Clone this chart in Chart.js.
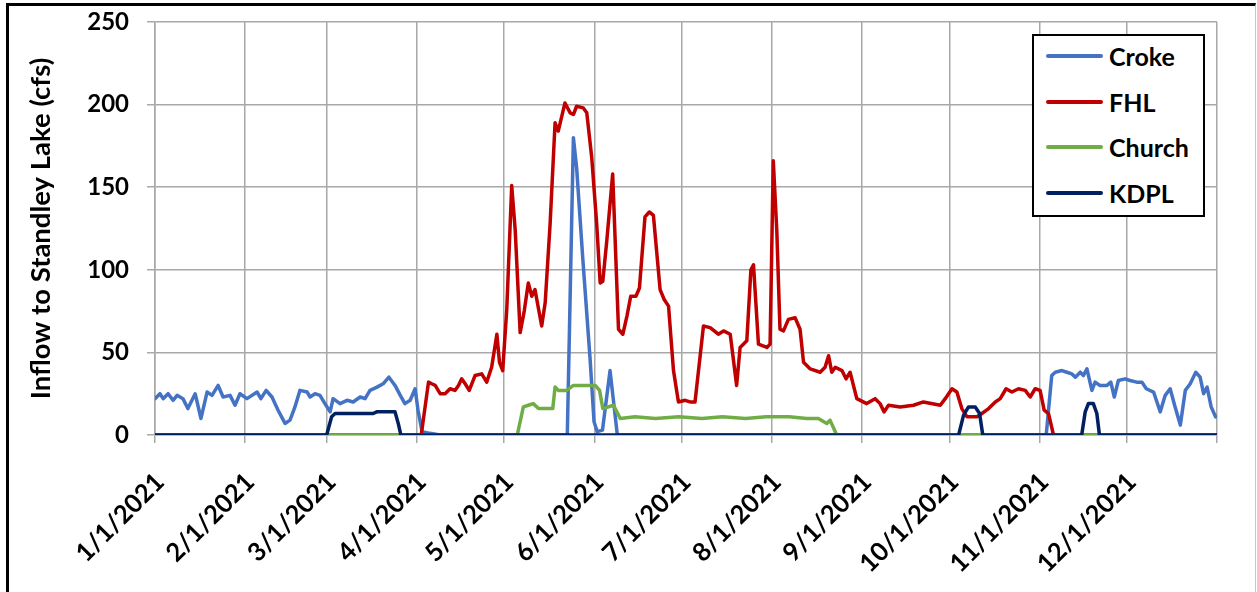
<!DOCTYPE html>
<html>
<head>
<meta charset="utf-8">
<script src="https://cdn.jsdelivr.net/npm/chart.js@4"></script>
<style>
  body { margin: 0; background: #fff; font-family: Lato, "Open Sans", sans-serif; }
  #wrap { position: relative; width: 1257px; height: 592px; }
  #frame { position: absolute; left: 6px; top: 3px; width: 1246px; height: 586px;
           border-top: 3px solid #000; border-left: 3px solid #000;
           border-right: 1px solid #c8c8c8; border-bottom: 1px solid #c8c8c8; }
  canvas { position: absolute; left: 0; top: 0; }
  #legend { position: absolute; left: 1032px; top: 34px; width: 169px; height: 179px;
            border: 2px solid #000; background: #fff; }
  .item { position: absolute; left: 12px; height: 30px; display: flex; align-items: center;
          font-weight: bold; font-size: 25px; color: #000; }
  .item span.swatch { display: inline-block; width: 57px; height: 4px; border-radius: 2px; margin-right: 6px; }
</style>
</head>
<body>
<div id="wrap">
  <div id="frame"></div>
  <canvas id="chart" width="1257" height="592"></canvas>
  <div id="legend"></div>
</div>
<script>
// x positions are days since 1/1/2021
const monthTicks = [0, 31, 59, 90, 120, 151, 181, 212, 243, 273, 304, 334, 365];
const monthLabels = ['1/1/2021', '2/1/2021', '3/1/2021', '4/1/2021', '5/1/2021', '6/1/2021',
  '7/1/2021', '8/1/2021', '9/1/2021', '10/1/2021', '11/1/2021', '12/1/2021', ''];

const crokeDays = [0, 1.7, 2.8, 4.5, 6.2, 7.6, 9.6, 11.3, 13.8, 15.8, 17.9, 19.6, 21.7, 23.4, 25.8, 27.5,
  29.2, 31.6, 35.1, 36.4, 38.2, 40.2, 42.3, 44.7, 46.4, 48.1, 49.8, 52.3, 53.3, 55, 56.7, 58.4, 60.2,
  61.2, 63.6, 66, 68.1, 70.5, 72.2, 73.9, 76.3, 78.4, 80.4, 82.5, 84.3, 85.9, 87.7, 89.4, 90.4, 91.8,
  94.5, 98, 141.7, 143.8, 144.9, 147.1, 149.5, 150.9, 152, 153.8, 156.4, 158.9, 306.3, 308.2, 309.4,
  311.7, 313.4, 315.1, 316.3, 318, 319.1, 320.3, 322, 323.1, 324.8, 327.2, 328.5, 329.7, 331.1, 333.4,
  335.1, 337.4, 339.2, 340.7, 343.2, 345.5, 347.2, 348.9, 350.6, 352.4, 354.1, 355.8, 357.7, 359.2,
  360.4, 361.6, 363, 364.5];
const crokeVals = [22, 25, 22, 25, 21, 24, 22, 16, 25, 10, 26, 24, 30, 23, 24, 18,
  25, 22, 26, 22, 27, 23, 15, 7, 9, 17, 27, 26, 23, 25, 24, 19, 14,
  22, 19, 21, 20, 23, 22, 27, 29, 31, 35, 30, 24, 19, 21, 28, 15, 2,
  1, 0, 0, 180, 162, 105, 47, 8, 2, 3, 39, 0, 0, 36, 38,
  39, 38, 37, 35, 38, 36, 40, 27, 32, 30, 30, 32, 23, 33, 34,
  33, 32, 32, 28, 26, 14, 24, 28, 17, 6, 27, 31, 38, 35,
  25, 29, 17, 11];

const fhlDays = [0, 91.5, 94, 95.1, 96.3, 98, 99.7, 101.4, 103.1, 104.3, 105.4, 106.6, 108, 110, 112.3,
  114, 115.7, 117.5, 118.4, 119.5, 120.9, 122.6, 123.8, 125.5, 126.9, 128.3, 129.5, 130.6, 132.9, 134.1,
  135.8, 137.5, 138.6, 140.9, 142.7, 143.8, 144.9, 147.2, 148.4, 150.1, 151.8, 153, 153.9, 155.3, 157.3,
  159.3, 160.8, 162.2, 163.5, 165.3, 166.5, 168.4, 169.9, 171.3, 173.6, 175, 176.5, 178.2, 179.9, 182.2,
  183.9, 185.6, 188.5, 190.8, 193.6, 195.4, 197.7, 199.9, 201.1, 203.4, 204.8, 205.7, 207.4, 210.3, 211.4,
  212.5, 213.7, 214.8, 216, 217.7, 220, 221.7, 222.9, 225.2, 228.6, 230.3, 231.5, 232.6, 233.8, 236.1,
  237.5, 238.9, 241.2, 244.6, 247.5, 249.2, 250.6, 252.1, 256.1, 260.7, 264.1, 269.9, 271.6, 273.9, 275.6,
  277.3, 279.1, 280.8, 282.5, 284.2, 286.5, 288.8, 290.5, 292.5, 294.5, 296.8, 299.1, 300.8, 302.5, 304.2,
  305.6, 307.1, 308.8, 365];
const fhlVals = [0, 0, 32, 31, 30, 25, 25, 28, 27, 30, 34, 31, 27, 36, 37,
  32, 41, 61, 44, 39, 76, 151, 124, 62, 75, 92, 84, 88, 66, 80,
  128, 189, 184, 201, 195, 194, 199, 198, 195, 168, 128, 92, 93, 118, 158,
  64, 61, 72, 84, 84, 89, 132, 135, 133, 88, 82, 78, 39, 20, 21,
  20, 20, 66, 65, 61, 63, 61, 30, 53, 57, 100, 103, 55, 53, 55,
  166, 124, 64, 63, 70, 71, 64, 44, 40, 38, 41, 48, 38, 41, 39,
  34, 38, 22, 19, 22, 19, 14, 18, 17, 18, 20, 18, 22, 28, 26,
  16, 11, 11, 11, 13, 16, 20, 22, 28, 26, 28, 27, 23, 28, 27,
  15, 13, 0, 0];

const churchDays = [0, 124.5, 126.6, 128.3, 130, 131.8, 136.7, 137.5, 138.6, 141.5, 143.8, 148.4, 151.3,
  152.8, 153.9, 157.6, 159.9, 165, 172, 180, 188, 195, 203, 210, 218, 224, 228, 230.9, 232, 234.3, 365];
const churchVals = [0, 0, 17, 18, 19, 16, 16, 29, 27, 27, 30, 30, 30,
  27, 16, 18, 10, 11, 10, 11, 10, 11, 10, 11, 11, 10, 10, 7, 9, 0, 0];

const kdplDays = [0, 59, 60.7, 61.9, 75, 76.2, 82.5, 83.6, 84.5, 276.2, 277.9, 279.6, 281.9, 283.4, 284.5,
  318.5, 319.7, 320.8, 322.5, 323.7, 324.6, 365];
const kdplVals = [0, 0, 11, 13, 13, 14, 14, 7, 0, 0, 12, 17, 17, 13, 0,
  0, 14, 19, 19, 13, 0, 0];

const seriesNames = ['Croke', 'FHL', 'Church', 'KDPL'];
const seriesColors = ['#4472C4', '#C00000', '#70AD47', '#002060'];
const seriesDays = [crokeDays, fhlDays, churchDays, kdplDays];
const seriesVals = [crokeVals, fhlVals, churchVals, kdplVals];

const gridColor = '#a8a8a8';

const datasets = seriesNames.map((name, i) => ({
  label: name,
  data: seriesDays[i].map((d, j) => ({ x: d, y: seriesVals[i][j] })),
  borderColor: seriesColors[i],
  backgroundColor: seriesColors[i],
  borderWidth: 3.5,
  pointRadius: 0,
  tension: 0,
  fill: false,
  order: 4 - i // later series drawn on top, like Excel
}));

new Chart(document.getElementById('chart').getContext('2d'), {
  type: 'line',
  data: { datasets: datasets },
  options: {
    responsive: false,
    animation: false,
    layout: { padding: { top: 22, right: 40, left: 0, bottom: 0 } },
    plugins: { legend: { display: false }, tooltip: { enabled: false } },
    elements: { line: { borderJoinStyle: 'round', borderCapStyle: 'round' } },
    scales: {
      x: {
        type: 'linear',
        min: 0,
        max: 365,
        afterBuildTicks: s => { s.ticks = monthTicks.map(v => ({ value: v })); },
        afterFit: s => { s.height = 157; s.paddingRight = 0; },
        ticks: {
          autoSkip: false,
          maxRotation: 45,
          minRotation: 45,
          padding: 24,
          labelOffset: 5,
          color: '#000',
          font: { family: 'Lato', weight: 'bold', size: 25.5 },
          callback: (v, i) => monthLabels[i]
        },
        grid: { color: gridColor, lineWidth: 1.5, tickLength: 8 },
        border: { color: gridColor, width: 1.5 }
      },
      y: {
        min: 0,
        max: 250,
        afterFit: s => { s.width = 155; s.paddingTop = 0; s.paddingBottom = 0; },
        ticks: { stepSize: 50, padding: 18, color: '#000', font: { family: 'Lato', weight: 'bold', size: 24 } },
        grid: { color: gridColor, lineWidth: 1.5, tickLength: 8 },
        border: { color: gridColor, width: 1.5 },
        title: {
          display: true,
          text: 'Inflow to Standley Lake (cfs)',
          color: '#000',
          font: { family: 'Lato', weight: 'bold', size: 27.5 },
          padding: { top: 25, bottom: 0 }
        }
      }
    }
  }
});

// legend box inside the plot, as in the original
const legend = document.getElementById('legend');
const rowTops = [5, 51, 96, 142];
seriesNames.forEach((name, i) => {
  const row = document.createElement('div');
  row.className = 'item';
  row.style.top = rowTops[i] + 'px';
  row.innerHTML = '<span class="swatch" style="background:' + seriesColors[i] + '"></span>' + name;
  legend.appendChild(row);
});
</script>
</body>
</html>
